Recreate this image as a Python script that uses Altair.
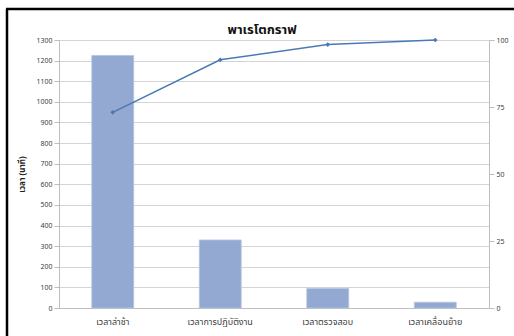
import altair as alt
import pandas as pd

categories = ["เวลาล่าช้า", "เวลาการปฏิบัติงาน", "เวลาตรวจสอบ", "เวลาเคลื่อนย้าย"]
minutes = [1225, 330, 95, 28]
cum_percent = [73.0, 92.6, 98.3, 100.0]
left_ticks = list(range(0, 1301, 100))
right_ticks = [0, 25, 50, 75, 100]

df = pd.DataFrame({"cat": categories, "minutes": minutes, "cum": cum_percent})

FONT = "Tahoma, 'Noto Sans Thai', 'Noto Sans', sans-serif"

x_enc = alt.X("cat:N", sort=categories, title=None,
              scale=alt.Scale(paddingInner=0.61, paddingOuter=0.305),
              axis=alt.Axis(labelAngle=0, labelFontSize=9, labelColor="#404040",
                            domainColor="#bfbfbf", ticks=False, labelPadding=9,
                            labelFont=FONT))

bars = alt.Chart(df).mark_bar(color="#94a9d1", stroke="#b4c4e2", strokeWidth=0.8).encode(
    x=x_enc,
    y=alt.Y("minutes:Q", title="เวลา (นาที)",
            scale=alt.Scale(domain=[0, 1300], nice=False),
            axis=alt.Axis(values=left_ticks, format="d", labelFontSize=7, labelColor="#404040",
                          domainColor="#bfbfbf", tickColor="#bfbfbf", tickSize=5,
                          gridColor="#d4d4d4", titleFontSize=8, titleFont=FONT,
                          titleFontWeight="bold", titleColor="#222222", titlePadding=9,
                          labelFont=FONT)),
)

line = alt.Chart(df).mark_line(color="#4a7ab6", strokeWidth=1.6,
                                point=alt.OverlayMarkDef(shape="diamond", size=22, color="#4a7ab6", filled=True)).encode(
    x=alt.X("cat:N", sort=categories),
    y=alt.Y("cum:Q", title=None,
            scale=alt.Scale(domain=[0, 100], nice=False),
            axis=alt.Axis(orient="right", values=right_ticks, format="d", grid=False, labelFontSize=7,
                          labelColor="#404040", domainColor="#bfbfbf", tickColor="#bfbfbf",
                          tickSize=5, labelFont=FONT)),
)

frame_df = pd.DataFrame({"a": [0]})
left_border = alt.Chart(frame_df).mark_rule(color="black", strokeWidth=2.5).encode(
    x=alt.value(-52), y=alt.value(-31), y2=alt.value(300))
top_border = alt.Chart(frame_df).mark_rule(color="black", strokeWidth=2.5).encode(
    x=alt.value(-53), x2=alt.value(460), y=alt.value(-31))

chart = alt.layer(bars, line).resolve_scale(y="independent")
chart = alt.layer(chart, left_border, top_border).properties(
    width=430, height=268,
    title=alt.TitleParams("พาเรโตกราฟ", fontSize=13, fontWeight="bold", color="#111111",
                          anchor="middle", dx=-12, offset=-29, font=FONT),
    padding={"left": 59, "top": 40, "right": 25, "bottom": 28},
    autosize=alt.AutoSizeParams(type="none"),
).configure_view(stroke=None).configure(background="white")

chart.save("out.html", embed_options={"renderer": "svg", "actions": False})
